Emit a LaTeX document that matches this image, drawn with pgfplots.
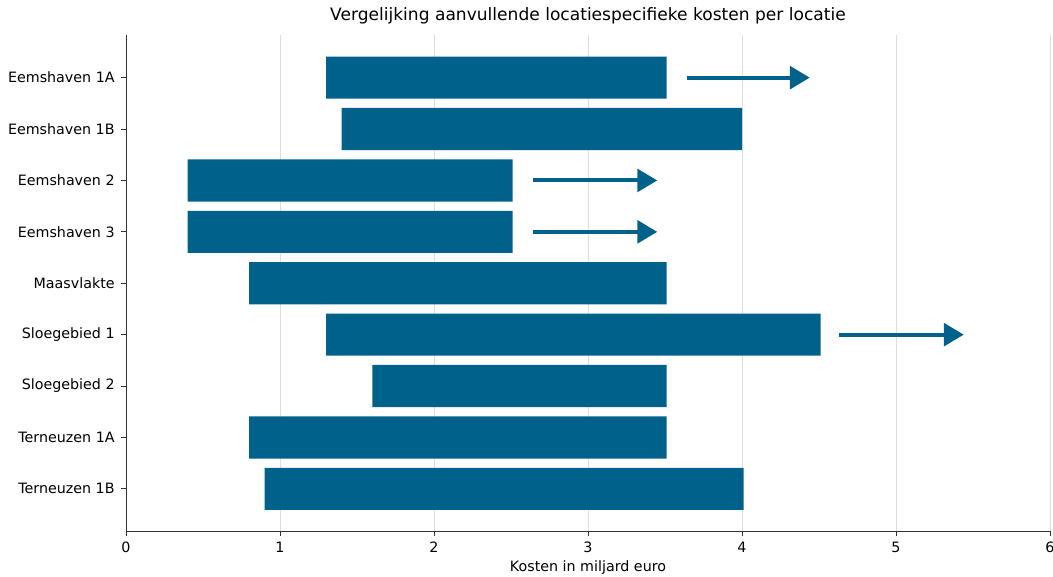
\documentclass[border=0pt]{standalone}
\usepackage{fontspec}
\setmainfont{DejaVu Sans}
\usepackage{pgfplots}
\pgfplotsset{compat=1.18}
\usepackage{pgfplotstable}
\usetikzlibrary{arrows.meta}
\definecolor{barblue}{RGB}{0,98,139}
\definecolor{gridgray}{RGB}{222,222,222}
\definecolor{spine}{RGB}{50,50,50}
\pgfplotstableread{
idx start end
0 1.30 3.51
1 1.40 4.00
2 0.40 2.51
3 0.40 2.51
4 0.80 3.51
5 1.30 4.51
6 1.60 3.51
7 0.80 3.51
8 0.90 4.01
}\bars
\pgfplotstableread{
idx x u
0 3.64 0.80
2 2.64 0.81
3 2.64 0.81
5 4.63 0.81
}\arrowdata
\newcommand{\fs}{\fontsize{10.7pt}{13pt}\selectfont}
\newcommand{\fst}{\fontsize{12.8pt}{15pt}\selectfont}
\pgfplotsset{
  common/.style={
    scale only axis, width=693pt, height=372pt,
    xmin=0, xmax=6, ymin=-0.83, ymax=8.82, y dir=reverse,
  }
}
\begin{document}
\begin{tikzpicture}
\begin{axis}[
  common,
  xbar stacked, bar width=0.82,
  axis x line*=bottom, axis y line*=left,
  axis line style={spine, line width=0.7pt},
  tick align=outside, major tick length=4pt,
  tick style={spine, line width=0.7pt},
  xtick={0,1,2,3,4,5,6},
  ytick={0,1,2,3,4,5,6,7,8},
  yticklabels={Eemshaven 1A,Eemshaven 1B,Eemshaven 2,Eemshaven 3,Maasvlakte,Sloegebied 1,Sloegebied 2,Terneuzen 1A,Terneuzen 1B},
  /pgf/number format/assume math mode=true,
  ticklabel style={font=\fs},
  yticklabel style={xshift=-1pt},
  xticklabel style={yshift=-1pt},
  xmajorgrids, grid style={gridgray, line width=0.6pt},
  title={Vergelijking aanvullende locatiespecifieke kosten per locatie},
  title style={font=\fst, at={(axis description cs:0.5,1)}, anchor=south, yshift=-1pt},
  xlabel={Kosten in miljard euro},
  xlabel style={font=\fs, at={(axis description cs:0.5,0)}, anchor=north, yshift=-19pt},
]
\addplot[draw=none, fill=none] table[x=start, y=idx] {\bars};
\addplot[fill=barblue, draw=none] table[x expr=\thisrow{end}-\thisrow{start}, y=idx] {\bars};
\end{axis}
\begin{axis}[common, hide axis]
\addplot[barblue, line width=3pt, -{Triangle[length=15pt,width=17pt]},
  quiver={u=\thisrow{u}, v=0}, mark=none] table[x=x, y=idx] {\arrowdata};
\end{axis}
\pgfresetboundingbox
\useasboundingbox (-94.5pt,-33.75pt) rectangle (695.25pt,398.25pt);
\end{tikzpicture}
\end{document}
